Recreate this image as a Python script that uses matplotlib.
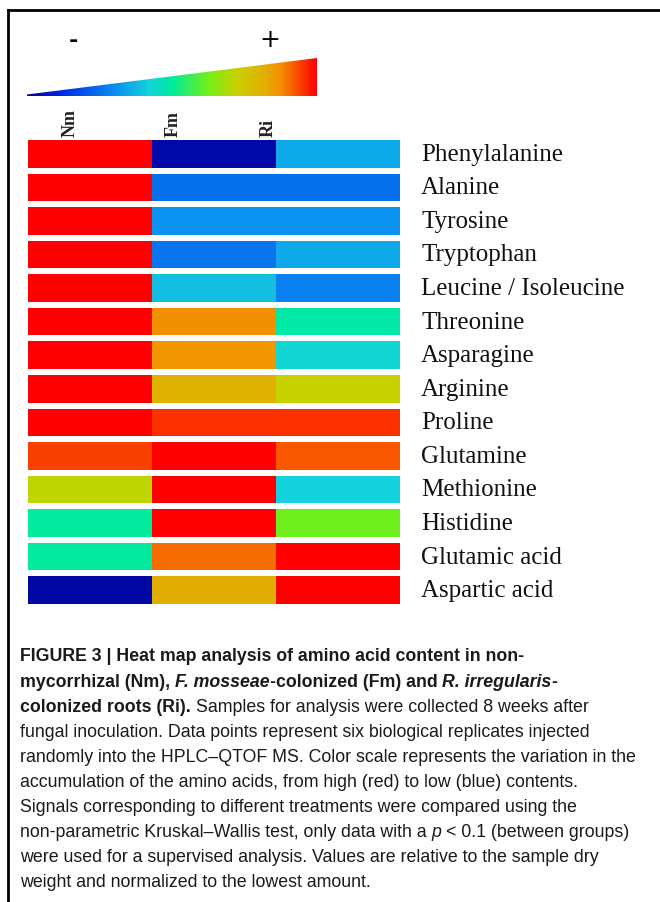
import numpy as np
import matplotlib
matplotlib.use("Agg")
import matplotlib.pyplot as plt
from matplotlib.colors import LinearSegmentedColormap
from matplotlib.patches import Polygon
from matplotlib.lines import Line2D

# ---- data ----
groups = ["Nm", "Fm", "Ri"]
amino_acids = ["Phenylalanine", "Alanine", "Tyrosine", "Tryptophan",
               "Leucine / Isoleucine", "Threonine", "Asparagine", "Arginine",
               "Proline", "Glutamine", "Methionine", "Histidine",
               "Glutamic acid", "Aspartic acid"]
# relative level on the colour scale (0 = low / blue, 1 = high / red)
nm = [1.00, 1.00, 1.00, 1.00, 1.00, 1.00, 1.00, 1.00, 1.00, 0.945, 0.71, 0.50, 0.50, 0.02]
fm = [0.03, 0.25, 0.31, 0.26, 0.39, 0.87, 0.86, 0.81, 0.955, 1.00, 1.00, 1.00, 0.905, 0.82]
ri = [0.35, 0.25, 0.31, 0.35, 0.28, 0.49, 0.43, 0.72, 0.955, 0.925, 0.42, 0.62, 1.00, 1.00]
values = np.array([nm, fm, ri]).T

# colour scale anchors (position, rgb)
scale_pos = [0.0, 0.12, 0.30, 0.42, 0.50, 0.62, 0.72, 0.82, 0.88, 0.94, 1.0]
scale_rgb = [(0, 0, 150), (0, 40, 230), (10, 140, 240), (20, 210, 220),
             (0, 235, 160), (110, 240, 30), (200, 210, 0), (225, 175, 0),
             (245, 140, 0), (250, 70, 0), (255, 0, 0)]

W, H = 660, 903
fig = plt.figure(figsize=(W / 100, H / 100), dpi=100)

cmap = LinearSegmentedColormap.from_list(
    "scale", [(p, tuple(c / 255 for c in rgb)) for p, rgb in zip(scale_pos, scale_rgb)])

def fx(px):
    return px / W

def fy(py):
    return 1 - py / H

# heat map
ax = fig.add_axes([fx(28), fy(608), fx(400) - fx(28), fy(138) - fy(608)])
rows = np.arange(len(amino_acids))
for j in range(len(groups)):
    ax.barh(rows, 1, left=j, height=0.82, color=cmap(values[:, j]), linewidth=0)
ax.set_xlim(0, 3)
ax.set_ylim(len(amino_acids) - 0.5, -0.5)
ax.axis("off")

for i, name in enumerate(amino_acids):
    ax.text(3.17, i, name, fontsize=18, family="Liberation Serif",
            va="center", ha="left", color="#111111")

label_x = [0.34, 1.17, 1.94]
for g, lx in zip(groups, label_x):
    ax.text(lx, -0.52, g, rotation=90, fontsize=13, fontweight="bold",
            family="Liberation Serif", ha="center", va="bottom", color="#222222")

# colour wedge
cax = fig.add_axes([fx(27), fy(97), fx(317) - fx(27), fy(59) - fy(97)])
grad = np.linspace(0, 1, 256).reshape(1, -1)
im = cax.imshow(grad, cmap=cmap, aspect="auto", extent=[0, 1, 0, 1])
wedge = Polygon([[0, 0], [1, 0], [1, 1], [0, 0.04]], closed=True,
                transform=cax.transData, facecolor="none", edgecolor="none")
cax.add_patch(wedge)
im.set_clip_path(wedge)
cax.set_xlim(0, 1)
cax.set_ylim(0, 1)
cax.axis("off")

fig.text(fx(73), fy(41), "-", fontsize=16, fontweight="bold", family="DejaVu Sans",
         ha="center", va="center")
fig.text(fx(270), fy(40), "+", fontsize=18, family="DejaVu Sans", ha="center", va="center")

# frame
fig.add_artist(Line2D([fx(8), 1], [fy(11), fy(11)], color="black", lw=2))
fig.add_artist(Line2D([fx(8), fx(8)], [fy(11), 0], color="black", lw=2))

# caption
FS = 12.8
fam = "Liberation Sans"
fig.canvas.draw()
renderer = fig.canvas.get_renderer()

def width_of(s, **kw):
    t = fig.text(0, 0, s, fontsize=FS, family=fam, **kw)
    w = t.get_window_extent(renderer).width
    t.remove()
    return w

def put_runs(py, runs):
    x = 20.0
    for txt, kw in runs:
        lead = len(txt) - len(txt.lstrip(" "))
        trail = len(txt) - len(txt.rstrip(" "))
        core = txt.strip(" ")
        sp = width_of("a a", **kw) - width_of("aa", **kw)
        x += lead * sp
        if core:
            t = fig.text(fx(x), fy(py), core, fontsize=FS, family=fam,
                         va="center", ha="left", color="#1a1a1a", **kw)
            x += t.get_window_extent(renderer).width
        x += trail * sp

B = dict(fontweight="bold")
BI = dict(fontweight="bold", style="italic")
N = dict()
I = dict(style="italic")

caption = [
    [("FIGURE 3 | Heat map analysis of amino acid content in non-", B)],
    [("mycorrhizal (Nm), ", B), ("F. mosseae", BI), ("-colonized (Fm) and ", B),
     ("R. irregularis", BI), ("-", B)],
    [("colonized roots (Ri).", B), (" Samples for analysis were collected 8 weeks after", N)],
    [("fungal inoculation. Data points represent six biological replicates injected", N)],
    [("randomly into the HPLC\u2013QTOF MS. Color scale represents the variation in the", N)],
    [("accumulation of the amino acids, from high (red) to low (blue) contents.", N)],
    [("Signals corresponding to different treatments were compared using the", N)],
    [("non-parametric Kruskal\u2013Wallis test, only data with a ", N), ("p", I),
     (" < 0.1 (between groups)", N)],
    [("were used for a supervised analysis. Values are relative to the sample dry", N)],
    [("weight and normalized to the lowest amount.", N)],
]
for k, runs in enumerate(caption):
    put_runs(657 + 25.1 * k, runs)

fig.savefig("out.png", dpi=100)
